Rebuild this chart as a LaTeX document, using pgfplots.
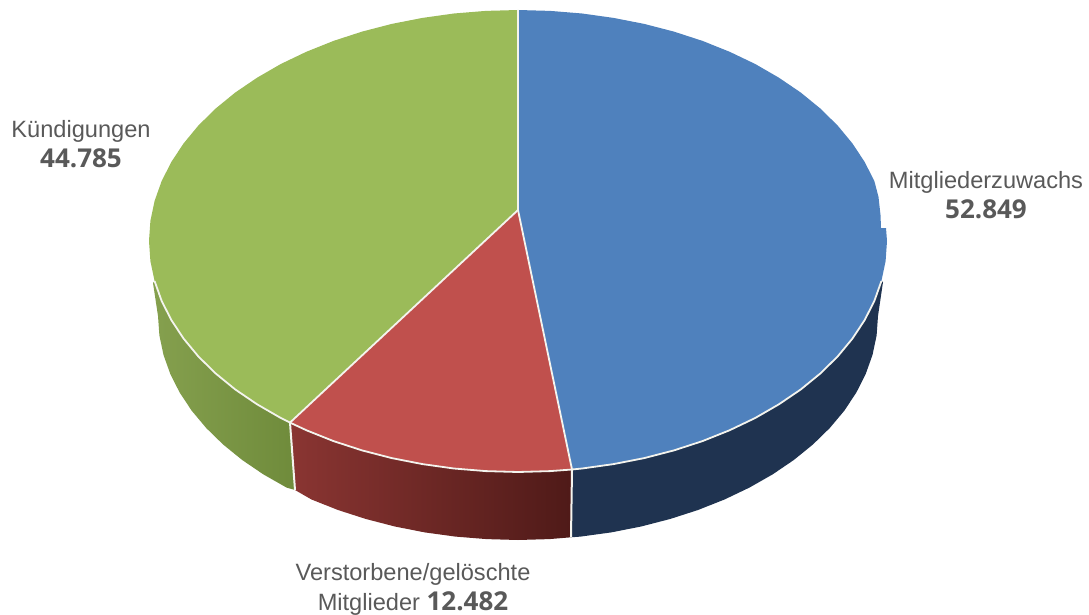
\documentclass[border=0pt]{standalone}
\usepackage{fontspec}
\setmainfont{Liberation Sans}
\newfontfamily\numfont{Open Sans}
\usepackage{pgfplots}
\pgfplotsset{compat=1.18}
\definecolor{lab}{HTML}{595959}
\definecolor{bluetop}{HTML}{4F81BD}
\definecolor{redtop}{HTML}{C0504D}
\definecolor{greentop}{HTML}{9BBB59}
\definecolor{bluewall}{HTML}{1F3350}
\definecolor{redL}{HTML}{8A3532}
\definecolor{redR}{HTML}{4F1A18}
\definecolor{greenL}{HTML}{85A04E}
\definecolor{greenR}{HTML}{6F8B3B}
\definecolor{edge}{HTML}{F4F4EE}
\newcommand{\reg}{\fontsize{23.6}{26}\selectfont\color{lab}}
\newcommand{\num}{\fontsize{26}{26}\selectfont\numfont\bfseries\color{lab}}
\begin{document}
\begin{tikzpicture}
\begin{axis}[
  scale only axis, width=1089pt, height=615pt,
  xmin=0, xmax=1089, ymin=0, ymax=615, y dir=reverse,
  hide axis, clip=false,
]
\path (axis cs:0,0) rectangle (axis cs:1089,615);
% side walls
\addplot[fill=bluewall, draw=none] coordinates {
 (572,469.5)(582.1,468.5)(613.5,464.1)(644.2,458.1)(673.9,450.4)(702.5,441.1)(729.7,430.2)(755.2,418)(778.9,404.3)(800.7,389.5)(820.3,373.5)(837.6,356.5)(852.4,338.6)(864.7,320)(874.4,300.8)(881.4,281.1)
 (883,282)(878,316)(876.6,335.5)(872.5,354.9)(865.7,374)(856.3,392.6)(844.3,410.7)(829.8,428)(812.9,444.5)(793.8,460)(772.6,474.4)(749.4,487.6)(724.5,499.5)(698,510)(670.1,519)(641.1,526.5)(611.2,532.4)(580.5,536.6)(571,537.3)
} -- cycle;
\addplot[left color=redL, right color=redR, draw=none] coordinates {
 (290,422.6)(306.3,430.2)(333.5,441.1)(362.1,450.4)(391.8,458.1)(422.5,464.1)(453.9,468.5)(485.8,471.1)(518,472)(550.2,471.1)(572,469.5)
 (571,537.3)(549.4,539.1)(518,540)(486.6,539.1)(455.5,536.6)(424.8,532.4)(394.9,526.5)(365.9,519)(338,510)(311.5,499.5)(295,490)
} -- cycle;
\addplot[left color=greenL, right color=greenR, draw=none] coordinates {
 (290,422.6)(280.8,418)(257.1,404.3)(235.3,389.5)(215.7,373.5)(198.4,356.5)(183.6,338.6)(171.3,320)(161.6,300.8)(154.6,281.1)
 (153,283)(158,316)(159.4,335.5)(163.5,354.9)(170.3,374)(179.7,392.6)(191.7,410.7)(206.2,428)(223.1,444.5)(242.2,460)(263.4,474.4)(286.6,487.6)(295,490)
} -- cycle;
% wall separators
\addplot[edge, line width=2pt] coordinates {(572,469.5)(571,537.3)};
\addplot[edge, line width=2pt] coordinates {(290,422.6)(295,490)};
% top faces
\addplot[fill=bluetop, draw=none] coordinates {
 (518,210)(518,10)(550.2,10.9)(582.1,13.5)(613.5,17.9)(644.2,23.9)(673.9,31.6)(702.5,40.9)(729.7,51.8)(755.2,64)(778.9,77.7)(800.7,92.5)(820.3,108.5)(837.6,125.5)(852.4,143.4)(864.7,162)(874.4,181.2)
 (878.5,197)(880.5,215)(881,228)(886,228)
 (887,241)(885.6,261.1)(881.4,281.1)(874.4,300.8)(864.7,320)(852.4,338.6)(837.6,356.5)(820.3,373.5)(800.7,389.5)(778.9,404.3)(755.2,418)(729.7,430.2)(702.5,441.1)(673.9,450.4)(644.2,458.1)(613.5,464.1)(582.1,468.5)(572,469.5)
} -- cycle;
\addplot[fill=redtop, draw=none] coordinates {
 (518,210)(572,469.5)(550.2,471.1)(518,472)(485.8,471.1)(453.9,468.5)(422.5,464.1)(391.8,458.1)(362.1,450.4)(333.5,441.1)(306.3,430.2)(290,422.6)
} -- cycle;
\addplot[fill=greentop, draw=none] coordinates {
 (518,210)(290,422.6)(280.8,418)(257.1,404.3)(235.3,389.5)(215.7,373.5)(198.4,356.5)(183.6,338.6)(171.3,320)(161.6,300.8)(154.6,281.1)(150.4,261.1)(149,241)
 (150.4,220.9)(154.6,200.9)(161.6,181.2)(171.3,162)(183.6,143.4)(198.4,125.5)(215.7,108.5)(235.3,92.5)(257.1,77.7)(280.8,64)(306.3,51.8)(333.5,40.9)(362.1,31.6)(391.8,23.9)(422.5,17.9)(453.9,13.5)(485.8,10.9)(518,10)
} -- cycle;
% edges of the top faces
\addplot[edge, line width=1.8pt] coordinates {(518,10)(518,210)(572,469.5)};
\addplot[edge, line width=1.8pt] coordinates {(518,210)(290,422.6)};
\addplot[edge, line width=1.8pt] coordinates {
 (154.6,281.1)(161.6,300.8)(171.3,320)(183.6,338.6)(198.4,356.5)(215.7,373.5)(235.3,389.5)(257.1,404.3)(280.8,418)(290,422.6)(306.3,430.2)(333.5,441.1)(362.1,450.4)(391.8,458.1)(422.5,464.1)(453.9,468.5)(485.8,471.1)(518,472)(550.2,471.1)(572,469.5)(582.1,468.5)(613.5,464.1)(644.2,458.1)(673.9,450.4)(702.5,441.1)(729.7,430.2)(755.2,418)(778.9,404.3)(800.7,389.5)(820.3,373.5)(837.6,356.5)(852.4,338.6)(864.7,320)(874.4,300.8)(881.4,281.1)
};
% labels
\node[anchor=base, inner sep=0pt] at (axis cs:81,137) {\reg Kündigungen};
\node[anchor=base, inner sep=0pt] at (axis cs:81,167) {\num 44.785};
\node[anchor=base, inner sep=0pt] at (axis cs:986,188) {\reg Mitgliederzuwachs};
\node[anchor=base, inner sep=0pt] at (axis cs:986,218) {\num 52.849};
\node[anchor=base, inner sep=0pt] at (axis cs:413,580) {\reg Verstorbene/gelöschte};
\node[anchor=base, inner sep=0pt] at (axis cs:413,610) {\reg Mitglieder \num 12.482};
\end{axis}
\end{tikzpicture}
\end{document}
